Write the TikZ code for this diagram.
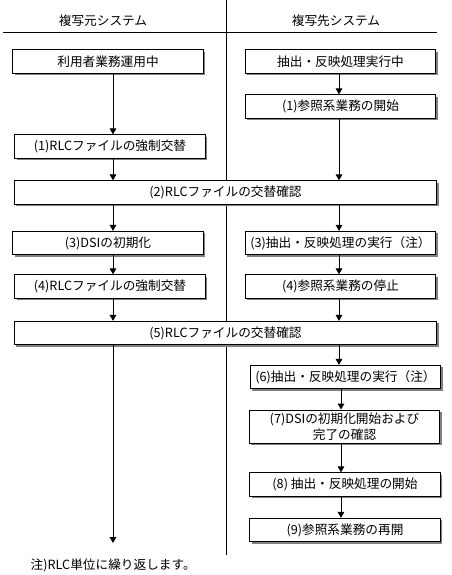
\documentclass[tikz,border=0pt]{standalone}
\usepackage{fontspec}
\setmainfont{Noto Sans CJK JP}
\usetikzlibrary{
	arrows.meta,
	shadows
}

\begin{document}
\begin{tikzpicture}[x=0.75pt,y=-0.75pt,
		font=\fontsize{9.5}{12}\selectfont,
		stepbox/.style={draw,fill=white,line width=0.75pt,inner sep=1pt,minimum height=17.5pt,
			drop shadow={shadow xshift=1.6pt,shadow yshift=-1.6pt,fill=black!50,opacity=1}},
		halfbox/.style={stepbox,minimum width=143pt},
		widebox/.style={stepbox,minimum width=317pt},
		flow/.style={-{Triangle[length=4.5pt,width=5pt]},line width=0.75pt}]
		\useasboundingbox (0,0) rectangle (451,575);
		% lanes
		\draw[line width=0.75pt] (226,0) -- (226,555);
		\draw[line width=0.75pt] (3,32) -- (437,32);
		\node (srchead) at (103,21) {複写元システム};
		\node (dsthead) at (336,21) {複写先システム};
		\coordinate (lcol) at (113,0);
		\coordinate (rcol) at (339,0);
		\coordinate (rcolb) at (341,0);
		\coordinate (lend) at (113,543);
		% source side
		\node[halfbox] (use) at (108,61.5) {利用者業務運用中};
		\node[halfbox] (lf1) at (110,146.5) {(1)RLCファイルの強制交替};
		\node[halfbox] (dsi3) at (108,243) {(3)DSIの初期化};
		\node[halfbox] (lf4) at (110,286.5) {(4)RLCファイルの強制交替};
		% target side
		\node[halfbox] (ext) at (340.5,61.5) {抽出・反映処理実行中};
		\node[halfbox] (rs1) at (340.5,106.5) {(1)参照系業務の開始};
		\node[halfbox] (ext3) at (340.5,243) {(3)抽出・反映処理の実行（注）};
		\node[halfbox] (stop4) at (340.5,286.5) {(4)参照系業務の停止};
		\node[halfbox] (ext6) at (345.5,377) {(6)抽出・反映処理の実行（注）};
		\node[halfbox,minimum height=24.75pt,align=center] (dsi7) at (344.5,426.5) {(7)DSIの初期化開始および\\完了の確認};
		\node[halfbox] (st8) at (345,484.5) {(8) 抽出・反映処理の開始};
		\node[halfbox] (rs9) at (345,530) {(9)参照系業務の再開};
		% both sides
		\node[widebox] (ck2) at (225.5,192.5) {(2)RLCファイルの交替確認};
		\node[widebox] (ck5) at (225.5,333) {(5)RLCファイルの交替確認};
		\node[anchor=west] (note) at (26,565) {注)RLC単位に繰り返します。};
		% arrows
		\foreach \a/\b in {use/lf1,lf1/ck2,ck2/dsi3,dsi3/lf4,lf4/ck5}{
			\draw[flow] (\a.south -| lcol) -- (\b.north -| lcol);
		}
		\draw[flow] (ck5.south -| lcol) -- (lend);
		\foreach \a/\b in {ext/rs1,rs1/ck2,ck2/ext3,ext3/stop4,stop4/ck5,ck5/ext6}{
			\draw[flow] (\a.south -| rcol) -- (\b.north -| rcol);
		}
		\foreach \a/\b in {ext6/dsi7,dsi7/st8,st8/rs9}{
			\draw[flow] (\a.south -| rcolb) -- (\b.north -| rcolb);
		}
	\end{tikzpicture}
\end{document}
